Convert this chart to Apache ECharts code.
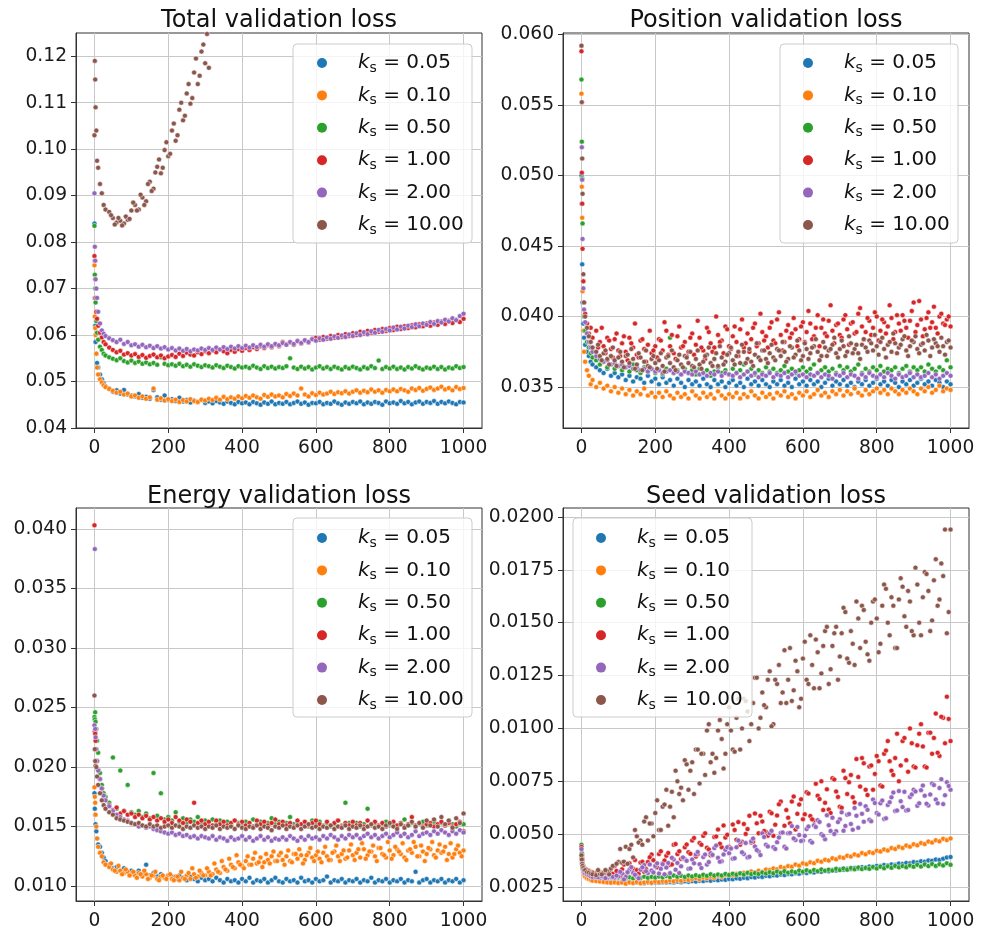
<!DOCTYPE html>
<html><head><meta charset="utf-8">
<script src="https://cdn.jsdelivr.net/npm/echarts@6/dist/echarts.min.js"></script>
<style>html,body{margin:0;padding:0;background:#fff}#c{width:989px;height:931px}</style>
</head><body><div id="c"></div>
<script>
const epochs = [0,1,2,3,5,7,10,15,20,25,30,40,50,60,70,80,90,100,
110,120,130,140,150,160,170,180,190,200,
210,220,230,240,250,260,270,280,290,300,
310,320,330,340,350,360,370,380,390,400,
410,420,430,440,450,460,470,480,490,500,
510,520,530,540,550,560,570,580,590,600,
610,620,630,640,650,660,670,680,690,700,
710,720,730,740,750,760,770,780,790,800,
810,820,830,840,850,860,870,880,890,900,
910,920,930,940,950,960,970,980,990,1000];
// extra in-between epochs for the widely scattered runs
const epochsMid = [45,55,65,75,85,95,
105,115,125,135,145,155,165,175,185,195,
205,215,225,235,245,255,265,275,285,295,
305,315,325,335,345,355,365,375,385,395,
405,415,425,435,445,455,465,475,485,495,
505,515,525,535,545,555,565,575,585,595,
605,615,625,635,645,655,665,675,685,695,
705,715,725,735,745,755,765,775,785,795,
805,815,825,835,845,855,865,875,885,895,
905,915,925,935,945,955,965,975,985,995];

const kLabels = ['0.05','0.10','0.50','1.00','2.00','10.00'];
const titles = ['Total validation loss','Position validation loss','Energy validation loss','Seed validation loss'];
const xTicks = [0,200,400,600,800,1000];
const yTicksTotal = [0.04,0.05,0.06,0.07,0.08,0.09,0.10,0.11,0.12];
const yTicksPosition = [0.035,0.040,0.045,0.050,0.055,0.060];
const yTicksEnergy = [0.010,0.015,0.020,0.025,0.030,0.035,0.040];
const yTicksSeed = [0.0025,0.0050,0.0075,0.0100,0.0125,0.0150,0.0175,0.0200];

// ---- Total validation loss ----
const totalK005 = [.0840,.0680,.0620,.0585,.0560,.0540,.0530,.0515,.0505,.0497,.0490,.0485,.0478,.0481,.0474,.0482,.0472,.0470,
.0468,.0473,.0465,.0467,.0463,.0482,.0466,.0461,.0470,.0460,
.0462,.0458,.0465,.0457,.0460,.0455,.0459,.0456,.0461,.0454,
.0457,.0453,.0458,.0455,.0452,.0457,.0454,.0451,.0456,.0453,
.0455,.0451,.0456,.0453,.0450,.0455,.0452,.0457,.0451,.0454,
.0452,.0456,.0451,.0454,.0457,.0452,.0455,.0450,.0454,.0453,
.0456,.0451,.0454,.0452,.0457,.0453,.0450,.0455,.0452,.0456,
.0453,.0457,.0451,.0455,.0452,.0456,.0454,.0450,.0457,.0453,
.0455,.0452,.0458,.0453,.0456,.0451,.0455,.0457,.0452,.0456,
.0454,.0458,.0452,.0456,.0453,.0457,.0454,.0451,.0456,.0455];
const totalK010 = [.0750,.0640,.0615,.0600,.0560,.0530,.0515,.0505,.0498,.0492,.0488,.0484,.0480,.0476,.0478,.0472,.0474,.0468,
.0470,.0465,.0468,.0463,.0466,.0485,.0461,.0464,.0459,.0462,
.0458,.0461,.0456,.0460,.0457,.0462,.0458,.0456,.0461,.0459,
.0463,.0460,.0465,.0461,.0467,.0462,.0466,.0463,.0468,.0464,
.0469,.0465,.0470,.0466,.0463,.0471,.0467,.0472,.0468,.0470,
.0466,.0473,.0469,.0474,.0470,.0485,.0472,.0468,.0475,.0471,
.0476,.0472,.0474,.0478,.0473,.0477,.0475,.0479,.0474,.0478,
.0481,.0476,.0480,.0477,.0483,.0478,.0481,.0476,.0482,.0479,
.0483,.0479,.0484,.0481,.0478,.0485,.0482,.0486,.0480,.0484,
.0487,.0482,.0485,.0489,.0483,.0486,.0481,.0488,.0484,.0486];
const totalK050 = [.0835,.0730,.0700,.0670,.0630,.0605,.0590,.0575,.0568,.0560,.0556,.0552,.0549,.0546,.0550,.0544,.0541,.0545,
.0540,.0543,.0538,.0541,.0537,.0540,.0536,.0552,.0538,.0535,
.0537,.0534,.0538,.0533,.0536,.0532,.0537,.0534,.0531,.0535,
.0533,.0530,.0535,.0532,.0529,.0534,.0531,.0528,.0533,.0530,
.0532,.0529,.0534,.0530,.0527,.0533,.0529,.0532,.0528,.0531,
.0529,.0533,.0550,.0530,.0527,.0532,.0528,.0531,.0526,.0530,
.0533,.0528,.0531,.0527,.0532,.0529,.0526,.0531,.0528,.0532,
.0529,.0526,.0531,.0528,.0533,.0529,.0545,.0527,.0531,.0528,
.0532,.0527,.0530,.0526,.0531,.0528,.0533,.0529,.0526,.0530,
.0528,.0532,.0527,.0531,.0526,.0530,.0528,.0533,.0529,.0531];
const totalK100 = [.0770,.0760,.0720,.0680,.0650,.0635,.0620,.0605,.0595,.0585,.0580,.0573,.0568,.0563,.0566,.0558,.0561,.0556,
.0559,.0553,.0557,.0551,.0555,.0558,.0552,.0556,.0550,.0554,
.0557,.0553,.0560,.0555,.0562,.0558,.0556,.0563,.0559,.0565,
.0561,.0567,.0563,.0569,.0565,.0561,.0568,.0564,.0570,.0566,
.0572,.0568,.0574,.0570,.0576,.0572,.0578,.0574,.0580,.0576,
.0585,.0580,.0584,.0579,.0587,.0582,.0588,.0584,.0592,.0594,
.0590,.0596,.0592,.0598,.0594,.0600,.0596,.0602,.0598,.0604,
.0600,.0607,.0603,.0609,.0605,.0611,.0607,.0613,.0609,.0615,
.0611,.0618,.0613,.0619,.0615,.0621,.0617,.0623,.0619,.0625,
.0620,.0627,.0622,.0629,.0624,.0631,.0626,.0633,.0628,.0635];
const totalK200 = [.0905,.0790,.0760,.0720,.0700,.0680,.0650,.0625,.0610,.0603,.0598,.0593,.0589,.0585,.0590,.0581,.0585,.0578,
.0580,.0575,.0579,.0574,.0577,.0572,.0576,.0571,.0574,.0569,
.0572,.0567,.0571,.0566,.0570,.0565,.0569,.0567,.0571,.0568,
.0572,.0568,.0573,.0569,.0574,.0570,.0575,.0571,.0576,.0572,
.0577,.0573,.0578,.0574,.0579,.0575,.0580,.0576,.0581,.0578,
.0583,.0579,.0585,.0581,.0587,.0583,.0589,.0585,.0591,.0588,
.0593,.0590,.0595,.0592,.0597,.0594,.0599,.0596,.0601,.0598,
.0604,.0600,.0606,.0602,.0608,.0605,.0611,.0607,.0613,.0610,
.0616,.0612,.0618,.0614,.0620,.0617,.0623,.0619,.0625,.0622,
.0628,.0624,.0630,.0627,.0633,.0629,.0636,.0632,.0641,.0646];
const totalK1000 = [.1030,.1190,.1150,.1090,.1040,.0975,.0960,.0925,.0905,.0880,.0870,.0865,.0852,.0842,.0846,.0840,.0848,.0868,
.0880,.0870,.0896,.0888,.0930,.0915,.0962,.0948,.0998,.0985,
.1040,.1018,.1085,.1062,.1120,.1098,.1165,.1140,.1210,.1185,
.1175];
const totalK1000Mid = [.0858,.0838,.0852,.0836,.0855,.0850,
.0885,.0868,.0902,.0880,.0925,.0910,.0950,.0978,.0960,.1015,
.0990,.1055,.1030,.1100,.1072,.1140,.1110,.1195,.1158,.1225,
.1248];

// ---- Position validation loss ----
const positionK005 = [.0500,.0480,.0437,.0410,.0395,.0385,.0380,.0375,.0372,.0368,.0366,.0364,.0362,.0360,.0363,.0358,.0360,.0357,
.0359,.0355,.0358,.0354,.0357,.0356,.0353,.0358,.0354,.0356,
.0352,.0357,.0353,.0355,.0351,.0356,.0353,.0350,.0355,.0352,
.0354,.0351,.0356,.0352,.0350,.0355,.0352,.0354,.0350,.0353,
.0355,.0351,.0353,.0350,.0356,.0352,.0354,.0351,.0355,.0352,
.0350,.0354,.0352,.0355,.0351,.0353,.0350,.0356,.0352,.0354,
.0351,.0355,.0352,.0354,.0350,.0353,.0356,.0351,.0354,.0352,
.0355,.0351,.0353,.0350,.0354,.0352,.0355,.0351,.0353,.0356,
.0352,.0354,.0351,.0355,.0353,.0350,.0354,.0352,.0355,.0351,
.0353,.0356,.0352,.0354,.0351,.0355,.0353,.0350,.0354,.0352];
const positionK010 = [.0558,.0492,.0470,.0418,.0390,.0375,.0368,.0362,.0358,.0352,.0355,.0350,.0353,.0349,.0351,.0347,.0350,.0346,
.0349,.0345,.0348,.0344,.0347,.0345,.0349,.0344,.0346,.0343,
.0346,.0343,.0347,.0344,.0342,.0346,.0343,.0345,.0342,.0347,
.0344,.0342,.0346,.0343,.0345,.0342,.0347,.0344,.0342,.0345,
.0343,.0346,.0342,.0345,.0343,.0347,.0344,.0342,.0346,.0343,
.0345,.0342,.0346,.0344,.0347,.0343,.0345,.0342,.0346,.0344,
.0347,.0343,.0345,.0348,.0344,.0346,.0343,.0347,.0345,.0348,
.0344,.0347,.0345,.0349,.0346,.0344,.0348,.0345,.0347,.0349,
.0346,.0348,.0345,.0349,.0347,.0345,.0348,.0346,.0349,.0347,
.0345,.0349,.0347,.0350,.0346,.0348,.0351,.0347,.0349,.0348];
const positionK050 = [.0568,.0524,.0498,.0466,.0425,.0400,.0390,.0382,.0378,.0374,.0371,.0369,.0366,.0368,.0364,.0366,.0363,.0365,
.0362,.0364,.0361,.0366,.0362,.0360,.0364,.0361,.0363,.0360,
.0362,.0359,.0363,.0385,.0360,.0362,.0359,.0363,.0360,.0362,
.0359,.0363,.0360,.0362,.0358,.0361,.0364,.0360,.0362,.0359,
.0363,.0360,.0362,.0366,.0361,.0363,.0359,.0362,.0360,.0364,
.0361,.0363,.0360,.0362,.0365,.0361,.0363,.0360,.0362,.0364,
.0361,.0363,.0366,.0360,.0362,.0364,.0361,.0363,.0360,.0365,
.0362,.0364,.0361,.0363,.0366,.0360,.0363,.0361,.0364,.0362,
.0365,.0361,.0363,.0362,.0364,.0360,.0363,.0365,.0361,.0364,
.0362,.0364,.0361,.0366,.0363,.0361,.0364,.0362,.0369,.0364];
const positionK100 = [.0588,.0502,.0480,.0448,.0425,.0410,.0402,.0395,.0388,.0392,.0385,.0390,.0382,.0379,.0385,.0377,.0384,.0376,
.0381,.0375,.0385,.0378,.0373,.0383,.0377,.0380,.0374,.0379,
.0384,.0376,.0390,.0379,.0374,.0386,.0378,.0382,.0375,.0388,
.0380,.0385,.0376,.0392,.0381,.0378,.0387,.0383,.0393,.0379,
.0386,.0382,.0391,.0378,.0388,.0384,.0395,.0381,.0389,.0386,
.0392,.0383,.0398,.0387,.0382,.0394,.0388,.0391,.0384,.0396,
.0389,.0395,.0386,.0401,.0392,.0388,.0397,.0390,.0394,.0387,
.0398,.0391,.0395,.0388,.0402,.0393,.0389,.0397,.0392,.0400,
.0390,.0396,.0393,.0399,.0389,.0395,.0401,.0392,.0397,.0410,
.0394,.0398,.0391,.0403,.0396,.0392,.0400,.0395,.0398,.0393];
const positionK100Mid = [.0378,.0392,.0374,.0383,.0371,.0388,
.0372,.0386,.0369,.0381,.0395,.0371,.0384,.0368,.0390,.0376,
.0371,.0383,.0396,.0373,.0387,.0370,.0393,.0379,.0372,.0385,
.0373,.0397,.0378,.0370,.0389,.0375,.0400,.0382,.0374,.0391,
.0377,.0393,.0372,.0398,.0381,.0375,.0392,.0379,.0402,.0383,
.0378,.0396,.0381,.0403,.0376,.0390,.0385,.0399,.0379,.0393,
.0382,.0404,.0384,.0392,.0379,.0398,.0386,.0408,.0381,.0395,
.0385,.0401,.0380,.0396,.0389,.0406,.0384,.0399,.0387,.0403,
.0383,.0398,.0388,.0408,.0384,.0401,.0390,.0397,.0385,.0404,
.0389,.0411,.0386,.0399,.0392,.0407,.0388,.0402,.0394,.0400];
const positionK200 = [.0592,.0520,.0497,.0455,.0420,.0405,.0396,.0388,.0382,.0378,.0375,.0372,.0370,.0368,.0369,.0366,.0367,.0365,
.0366,.0364,.0365,.0363,.0364,.0362,.0363,.0361,.0363,.0361,
.0362,.0360,.0361,.0362,.0360,.0361,.0359,.0361,.0360,.0359,
.0361,.0359,.0360,.0358,.0360,.0359,.0361,.0358,.0360,.0359,
.0358,.0360,.0357,.0359,.0361,.0358,.0360,.0357,.0359,.0358,
.0360,.0357,.0359,.0358,.0360,.0357,.0359,.0361,.0358,.0359,
.0357,.0359,.0358,.0360,.0357,.0359,.0358,.0356,.0359,.0358,
.0360,.0357,.0359,.0358,.0356,.0359,.0357,.0360,.0358,.0357,
.0359,.0357,.0360,.0358,.0356,.0359,.0357,.0358,.0360,.0357,
.0359,.0357,.0358,.0360,.0357,.0359,.0356,.0358,.0360,.0358];
const positionK1000 = [.0592,.0552,.0512,.0487,.0430,.0410,.0400,.0392,.0386,.0382,.0378,.0375,.0372,.0374,.0370,.0372,.0369,.0371,
.0368,.0372,.0367,.0370,.0366,.0371,.0368,.0365,.0370,.0367,
.0369,.0365,.0371,.0367,.0364,.0369,.0366,.0372,.0367,.0365,
.0370,.0366,.0368,.0373,.0367,.0370,.0365,.0371,.0368,.0374,
.0369,.0372,.0367,.0375,.0370,.0368,.0373,.0371,.0376,.0370,
.0374,.0371,.0377,.0372,.0375,.0370,.0378,.0373,.0376,.0372,
.0377,.0374,.0379,.0375,.0372,.0378,.0376,.0380,.0374,.0377,
.0379,.0375,.0381,.0377,.0374,.0380,.0378,.0383,.0376,.0379,
.0382,.0377,.0380,.0375,.0381,.0378,.0384,.0376,.0379,.0382,
.0377,.0380,.0376,.0383,.0378,.0381,.0375,.0379,.0382,.0378];
const positionK1000Mid = [.0380,.0369,.0376,.0366,.0378,.0365,
.0375,.0364,.0373,.0377,.0363,.0374,.0362,.0376,.0364,.0372,
.0363,.0374,.0361,.0372,.0376,.0362,.0373,.0364,.0371,.0375,
.0364,.0376,.0363,.0372,.0378,.0365,.0374,.0379,.0366,.0373,
.0378,.0366,.0375,.0380,.0367,.0377,.0365,.0381,.0369,.0376,
.0367,.0380,.0369,.0376,.0382,.0368,.0379,.0371,.0383,.0369,
.0381,.0370,.0378,.0384,.0369,.0382,.0372,.0377,.0385,.0371,
.0383,.0372,.0386,.0374,.0380,.0370,.0384,.0375,.0381,.0387,
.0373,.0385,.0371,.0382,.0388,.0374,.0380,.0386,.0372,.0383,
.0386,.0374,.0381,.0387,.0372,.0384,.0379,.0385,.0373,.0383];

// ---- Energy validation loss ----
const energyK005 = [.0178,.0165,.0160,.0152,.0146,.0140,.0135,.0133,.0128,.0124,.0121,.0118,.0115,.0116,.0113,.0115,.0112,.0113,
.0111,.0113,.0110,.0118,.0109,.0111,.0108,.0110,.0107,.0109,
.0108,.0106,.0109,.0107,.0105,.0108,.0106,.0104,.0107,.0105,
.0106,.0104,.0107,.0105,.0103,.0106,.0104,.0105,.0103,.0106,
.0104,.0107,.0103,.0105,.0104,.0106,.0103,.0105,.0107,.0104,
.0103,.0106,.0104,.0105,.0103,.0107,.0104,.0105,.0103,.0106,
.0104,.0105,.0108,.0103,.0105,.0104,.0106,.0103,.0105,.0104,
.0106,.0103,.0105,.0104,.0107,.0103,.0105,.0104,.0106,.0103,
.0105,.0104,.0106,.0103,.0105,.0104,.0112,.0103,.0105,.0106,
.0103,.0105,.0104,.0106,.0103,.0105,.0104,.0106,.0103,.0105];
const energyK010 = [.0183,.0175,.0170,.0160,.0150,.0140,.0133,.0128,.0125,.0120,.0118,.0116,.0114,.0112,.0113,.0111,.0112,.0110,
.0109,.0111,.0108,.0110,.0107,.0109,.0106,.0108,.0107,.0109,
.0106,.0108,.0105,.0107,.0109,.0106,.0110,.0108,.0111,.0109,
.0112,.0110,.0114,.0111,.0116,.0113,.0118,.0115,.0120,.0117,
.0121,.0118,.0123,.0119,.0124,.0120,.0122,.0125,.0121,.0126,
.0122,.0125,.0121,.0127,.0123,.0126,.0122,.0128,.0124,.0126,
.0123,.0128,.0125,.0122,.0129,.0125,.0127,.0123,.0130,.0126,
.0128,.0124,.0131,.0126,.0129,.0125,.0132,.0127,.0124,.0130,
.0126,.0131,.0127,.0124,.0130,.0128,.0133,.0125,.0129,.0127,
.0131,.0126,.0130,.0128,.0133,.0127,.0124,.0131,.0128,.0130];
const energyK010Mid = [.0119,.0113,.0117,.0110,.0114,.0109,
.0112,.0107,.0110,.0113,.0106,.0109,.0112,.0105,.0109,.0106,
.0110,.0105,.0108,.0112,.0106,.0111,.0115,.0107,.0113,.0109,
.0115,.0109,.0119,.0112,.0121,.0114,.0123,.0116,.0126,.0118,
.0115,.0125,.0118,.0128,.0120,.0116,.0127,.0119,.0129,.0121,
.0128,.0118,.0130,.0120,.0127,.0131,.0119,.0126,.0132,.0121,
.0129,.0120,.0133,.0122,.0128,.0134,.0121,.0130,.0124,.0135,
.0122,.0131,.0136,.0123,.0129,.0134,.0121,.0132,.0126,.0137,
.0123,.0133,.0129,.0136,.0122,.0131,.0137,.0125,.0134,.0121,
.0132,.0137,.0124,.0135,.0129,.0122,.0136,.0127,.0134,.0125];
const energyK050 = [.0242,.0240,.0246,.0238,.0232,.0222,.0212,.0195,.0185,.0178,.0175,.0170,.0208,.0165,.0197,.0163,.0185,.0162,
.0160,.0163,.0158,.0161,.0157,.0195,.0159,.0178,.0156,.0158,
.0155,.0162,.0154,.0157,.0153,.0156,.0154,.0158,.0153,.0155,
.0152,.0156,.0153,.0155,.0152,.0154,.0151,.0155,.0153,.0152,
.0154,.0151,.0156,.0152,.0154,.0151,.0153,.0157,.0152,.0154,
.0151,.0153,.0158,.0152,.0154,.0151,.0153,.0150,.0155,.0152,
.0154,.0151,.0153,.0150,.0152,.0155,.0151,.0170,.0153,.0151,
.0153,.0150,.0152,.0165,.0151,.0153,.0150,.0152,.0154,.0151,
.0153,.0150,.0152,.0156,.0151,.0153,.0150,.0152,.0154,.0151,
.0152,.0154,.0150,.0153,.0151,.0155,.0152,.0150,.0153,.0152];
const energyK100 = [.0403,.0230,.0228,.0222,.0215,.0205,.0198,.0190,.0182,.0176,.0172,.0168,.0164,.0166,.0161,.0163,.0160,.0161,
.0158,.0160,.0157,.0159,.0156,.0158,.0155,.0157,.0154,.0156,
.0153,.0158,.0155,.0153,.0156,.0154,.0170,.0153,.0155,.0152,
.0154,.0151,.0155,.0152,.0154,.0151,.0153,.0155,.0152,.0154,
.0151,.0153,.0150,.0155,.0152,.0154,.0151,.0153,.0156,.0152,
.0154,.0151,.0153,.0150,.0155,.0152,.0154,.0151,.0153,.0155,
.0152,.0150,.0154,.0151,.0153,.0155,.0150,.0153,.0151,.0154,
.0151,.0153,.0150,.0155,.0152,.0154,.0151,.0153,.0150,.0152,
.0154,.0151,.0153,.0150,.0152,.0158,.0151,.0153,.0150,.0152,
.0153,.0150,.0152,.0154,.0151,.0153,.0150,.0152,.0154,.0146];
const energyK200 = [.0235,.0383,.0232,.0225,.0215,.0205,.0197,.0190,.0182,.0176,.0172,.0167,.0163,.0160,.0158,.0156,.0155,.0153,
.0152,.0150,.0151,.0149,.0150,.0148,.0147,.0146,.0145,.0144,
.0145,.0143,.0144,.0142,.0143,.0141,.0142,.0140,.0142,.0141,
.0140,.0142,.0139,.0141,.0140,.0138,.0141,.0139,.0140,.0142,
.0139,.0141,.0138,.0140,.0142,.0139,.0141,.0138,.0140,.0139,
.0141,.0139,.0142,.0140,.0138,.0141,.0139,.0142,.0140,.0141,
.0139,.0142,.0140,.0143,.0141,.0139,.0142,.0140,.0143,.0141,
.0143,.0140,.0142,.0144,.0141,.0143,.0140,.0142,.0144,.0141,
.0143,.0145,.0142,.0144,.0141,.0143,.0146,.0142,.0144,.0145,
.0143,.0146,.0144,.0147,.0145,.0143,.0146,.0144,.0147,.0145];
const energyK1000 = [.0260,.0215,.0205,.0201,.0200,.0192,.0185,.0178,.0172,.0168,.0165,.0162,.0160,.0157,.0156,.0155,.0154,.0153,
.0152,.0153,.0151,.0150,.0152,.0150,.0151,.0149,.0150,.0151,
.0149,.0151,.0150,.0148,.0150,.0149,.0151,.0149,.0150,.0148,
.0150,.0149,.0151,.0148,.0150,.0149,.0150,.0148,.0151,.0149,
.0148,.0150,.0149,.0151,.0148,.0150,.0149,.0147,.0150,.0149,
.0151,.0148,.0150,.0149,.0151,.0148,.0150,.0152,.0149,.0150,
.0148,.0150,.0149,.0151,.0148,.0150,.0149,.0151,.0148,.0150,
.0149,.0151,.0148,.0150,.0152,.0149,.0150,.0148,.0151,.0153,
.0150,.0148,.0152,.0149,.0151,.0154,.0150,.0153,.0149,.0155,
.0151,.0156,.0150,.0158,.0152,.0155,.0149,.0157,.0153,.0161];

// ---- Seed validation loss ----
const seedK005 = [.0044,.0040,.0037,.0035,.0033,.0032,.0031,.0030,.0030,.0029,.0029,.00285,.0028,.0028,.00278,.00275,.00278,.00272,
.00274,.0027,.00273,.00269,.00272,.0027,.00268,.00272,.00269,.00271,
.0027,.00273,.00271,.00274,.00272,.00276,.00273,.00277,.00275,.00278,
.00276,.0028,.00278,.00282,.0028,.00284,.00282,.00286,.00284,.00288,
.00287,.00291,.00289,.00294,.00292,.00297,.00295,.003,.00298,.00303,
.00301,.00306,.00304,.00309,.00307,.00312,.0031,.00315,.00313,.00318,
.00316,.00321,.00319,.00324,.00322,.00327,.00325,.0033,.00328,.00334,
.00332,.00337,.00335,.0034,.00338,.00344,.00342,.00347,.00345,.0035,
.00349,.00354,.00352,.00357,.00355,.00361,.00359,.00364,.00362,.00368,
.00366,.00372,.0037,.00376,.00374,.0038,.00378,.00384,.0039,.00392];
const seedK010 = [.0043,.0039,.0036,.0034,.0032,.0031,.0030,.00292,.00288,.00284,.0028,.00278,.00276,.00274,.00272,.0027,.00272,.00269,
.00271,.00266,.00272,.00269,.00274,.00268,.00271,.00275,.0027,.00276,
.00273,.00279,.00275,.00281,.00277,.00284,.00279,.00287,.00283,.00288,
.00292,.00287,.00295,.00291,.00299,.00294,.00303,.00298,.00306,.00309,
.00305,.00313,.0031,.00318,.00314,.00324,.00319,.00327,.00322,.00333,
.0033,.00338,.00334,.00345,.0034,.00349,.00346,.00356,.00351,.00362,
.00358,.00367,.00363,.00374,.0037,.00379,.00375,.00386,.00381,.00391,
.00388,.00398,.00394,.00404,.00399,.00411,.00405,.00415,.00411,.00422,
.00418,.00428,.00423,.00434,.0043,.0044,.00435,.00446,.00441,.00452,
.00447,.00458,.00453,.00465,.0046,.00471,.00466,.00478,.00472,.0048];
const seedK050 = [.0045,.0041,.0038,.0036,.0035,.0034,.00335,.0033,.00328,.00322,.0032,.00315,.0031,.00306,.00302,.00298,.00301,.00295,
.00298,.00292,.00296,.00291,.00297,.00293,.00299,.00294,.00298,.00295,
.003,.00296,.00302,.00297,.00304,.00299,.00303,.00298,.00305,.003,
.00306,.00301,.00308,.00303,.0031,.00304,.00309,.00305,.00312,.00307,
.00313,.00308,.00315,.00309,.00317,.00311,.00316,.00312,.00319,.00314,
.0032,.00315,.00323,.00317,.00325,.00318,.00324,.0032,.00328,.00322,
.00329,.00323,.00331,.00325,.00333,.00327,.00332,.00328,.00336,.0033,
.00338,.00332,.0034,.00334,.00342,.00335,.0034,.00336,.00345,.00338,
.00346,.00339,.00348,.00341,.0035,.00343,.00349,.00344,.00352,.00346,
.00355,.00347,.00357,.00349,.00359,.0035,.00358,.00352,.00362,.00355];
const seedK100 = [.0044,.0040,.0038,.0036,.0035,.0034,.00335,.0033,.00325,.0032,.00318,.00315,.00312,.00316,.00311,.00318,.00314,.0032,
.00334,.00308,.00362,.00336,.0033,.00366,.00322,.00368,.00404,.0035,
.00406,.00362,.00398,.00354,.0045,.00406,.00382,.00438,.00414,.0047,
.00394,.00458,.00492,.00436,.004,.00486,.00522,.00438,.00484,.0044,
.00546,.00474,.0045,.00548,.00524,.0046,.00598,.00504,.0056,.0051,
.00606,.00492,.00588,.00654,.0054,.00578,.00654,.00522,.0064,.0057,
.00698,.00586,.00564,.00682,.0075,.00648,.00616,.00764,.00702,.0063,
.008,.0069,.0078,.0065,.0077,.0086,.0071,.0082,.0071,.0087,
.0073,.0088,.0094,.008,.0086,.0075,.0094,.0085,.01,.0082,
.0092,.0102,.0082,.0098,.0088,.0107,.0087,.0105,.0115,.0094];
const seedK100Mid = [.0031,.00318,.00305,.00322,.00312,.00326,
.00302,.00356,.0032,.00344,.00378,.00313,.00369,.00335,.00391,.00377,
.00343,.00419,.00375,.00411,.00357,.00453,.00419,.00385,.00451,.00407,
.00482,.00406,.0045,.00504,.00428,.00403,.00489,.00455,.00541,.00497,
.00433,.0052,.00557,.00464,.00501,.00587,.00464,.00551,.00587,.00515,
.00493,.00599,.00545,.00641,.00507,.00614,.00551,.00678,.00596,.00665,
.00594,.00692,.0057,.00738,.00666,.00614,.00712,.006,.00758,.00676,
.00625,.00765,.00745,.00675,.00855,.00725,.00835,.00685,.00825,.00785,
.00845,.00725,.00895,.00845,.0078,.00975,.00825,.00955,.00795,.0093,
.00815,.00975,.00915,.00815,.0098,.00955,.00885,.01055,.0093,.01045];
const seedK200 = [.0043,.0039,.0036,.0034,.0033,.0032,.00315,.0031,.00305,.003,.00298,.00296,.00294,.00297,.00293,.00298,.00295,.003,
.00314,.00298,.00332,.00316,.003,.00332,.00354,.00316,.00328,.0035,
.00314,.00358,.00342,.00316,.0038,.00364,.00348,.00382,.00336,.0038,
.00404,.00358,.00392,.00356,.0041,.00434,.00388,.00372,.00426,.0041,
.00384,.00438,.00462,.00406,.0039,.00466,.00442,.00418,.00504,.0045,
.00504,.00438,.00462,.00506,.0044,.00504,.00538,.00472,.00496,.0047,
.00524,.00468,.00542,.00566,.005,.00476,.00542,.00578,.00514,.0057,
.00516,.00592,.00548,.00624,.0053,.00596,.00632,.00568,.00664,.006,
.00646,.00572,.00638,.00674,.0061,.00704,.00628,.00612,.00676,.0071,
.00634,.00708,.00682,.00636,.0074,.00664,.00718,.00642,.00746,.0071];
const seedK200Mid = [.00296,.00302,.00292,.00306,.00298,.00304,
.00322,.00286,.0032,.00344,.00308,.00291,.00343,.00325,.00357,.00319,
.00362,.00336,.0031,.00364,.00388,.00332,.00316,.0039,.00374,.00338,
.00362,.00416,.0034,.00404,.00368,.00402,.00446,.0037,.00404,.00438,
.00432,.00386,.0047,.00414,.00458,.00393,.00479,.00425,.00401,.00487,
.00442,.00516,.0043,.00484,.00508,.00432,.00506,.0048,.00534,.00468,
.00492,.00536,.0046,.00534,.00558,.00493,.00589,.00515,.00501,.00557,
.00603,.00539,.00595,.00521,.00587,.00643,.00559,.00615,.00561,.00647,
.00593,.00659,.00575,.00651,.00697,.00612,.00656,.007,.00614,.00688,
.00702,.00646,.0073,.00644,.00688,.00732,.00646,.0076,.00684,.00728];
const seedK1000 = [.0040,.0038,.0036,.0035,.0034,.0033,.0033,.0032,.00318,.00312,.0031,.00306,.00312,.00318,.00326,.00338,.0035,.00368,
.00365,.0044,.0043,.0039,.0049,.0047,.0056,.0047,.0055,.006,
.0052,.0063,.0071,.0063,.0058,.0075,.0072,.0085,.0071,.0084,
.009,.0074,.0088,.0099,.0084,.0079,.0099,.0095,.0088,.011,
.009,.0105,.009,.0114,.0108,.0102,.0124,.01,.0117,.011,
.0127,.0102,.0121,.0112,.0137,.0123,.0113,.0132,.011,.0133,
.0123,.0144,.0119,.0136,.0126,.0146,.0121,.0139,.0148,.0134,
.0157,.0133,.0146,.013,.0152,.0158,.0141,.0132,.016,.0152,
.014,.0168,.015,.0162,.0138,.0161,.0167,.0148,.016,.0144,
.0168,.0144,.0174,.0165,.0151,.018,.0161,.0172,.0145,.0194];
const seedK1000Mid = [.0033,.0031,.0033,.0031,.0035,.0036,
.0043,.0037,.0036,.0045,.0052,.0046,.0045,.0058,.0055,.0049,
.0066,.0052,.0064,.0054,.007,.008,.0069,.0066,.0083,.008,
.0069,.009,.0088,.0078,.0102,.0088,.0086,.0104,.0081,.0102,
.0099,.0089,.0114,.01,.0113,.0094,.0112,.0124,.0105,.0111,
.0123,.0101,.0123,.013,.0117,.0112,.0138,.0118,.0127,.0114,
.0141,.0121,.013,.0142,.0119,.0139,.0148,.0128,.0145,.0123,
.0145,.0155,.0131,.014,.016,.0138,.0156,.0135,.015,.0161,
.0136,.0158,.0166,.0144,.0158,.0138,.0171,.0153,.0165,.0146,
.0176,.015,.0162,.0173,.0146,.017,.0158,.0178,.0194,.0155];

const panelSeries = [
  [totalK005,totalK010,totalK050,totalK100,totalK200,totalK1000],
  [positionK005,positionK010,positionK050,positionK100,positionK200,positionK1000],
  [energyK005,energyK010,energyK050,energyK100,energyK200,energyK1000],
  [seedK005,seedK010,seedK050,seedK100,seedK200,seedK1000]
];
const panelMid = [
  [null,null,null,null,null,totalK1000Mid],
  [null,null,null,positionK100Mid,null,positionK1000Mid],
  [null,energyK010Mid,null,null,null,null],
  [null,null,null,seedK100Mid,seedK200Mid,seedK1000Mid]
];
const yTicks = [yTicksTotal,yTicksPosition,yTicksEnergy,yTicksSeed];

// ---- styling / layout ----
const FONT = 'DejaVu Sans';
const colors = ['#1f77b4','#ff7f0e','#2ca02c','#d62728','#9467bd','#8c564b'];
const gridBoxes = [
  {left:76, top:33, width:406, height:395},
  {left:563, top:33, width:406, height:395},
  {left:76, top:508, width:406, height:395},
  {left:563, top:508, width:406, height:395}
];
const yRanges = [[0.04,0.125],[0.0321,0.0601],[0.00875,0.04175],[0.00184,0.02042]];
const yDecimals = [2,3,3,4];
const legendBoxes = [
  {x:293, y:44, w:179, h:199, mx:317, my:51},
  {x:780, y:44, w:178, h:199, mx:803, my:51},
  {x:293, y:518, w:179, h:199, mx:317, my:526},
  {x:573, y:518, w:179, h:199, mx:596, my:526}
];

const grid = gridBoxes.map(g => ({left:g.left, top:g.top, width:g.width, height:g.height, show:true,
  borderColor:'#333', borderWidth:1, backgroundColor:'transparent', containLabel:false}));

const xAxis = gridBoxes.map((g,i) => ({
  type:'value', gridIndex:i, min:-50, max:1050,
  axisLine:{show:true, onZero:false, lineStyle:{color:'#333', width:1}},
  axisTick:{show:true, length:5, lineStyle:{color:'#333', width:1}, customValues:xTicks},
  axisLabel:{customValues:xTicks, fontFamily:FONT, fontSize:18.67, color:'#1a1a1a', margin:11,
    formatter:v => String(Math.round(v))},
  splitLine:{show:true, lineStyle:{color:'#c8c8c8', width:1}}
}));

const yAxis = gridBoxes.map((g,i) => ({
  type:'value', gridIndex:i, min:yRanges[i][0], max:yRanges[i][1],
  axisLine:{show:true, onZero:false, lineStyle:{color:'#333', width:1}},
  axisTick:{show:true, length:5, lineStyle:{color:'#333', width:1}, customValues:yTicks[i]},
  axisLabel:{customValues:yTicks[i], fontFamily:FONT, fontSize:18.67, color:'#1a1a1a', margin:9,
    formatter:v => v.toFixed(yDecimals[i])},
  splitLine:{show:true, lineStyle:{color:'#c8c8c8', width:1}}
}));

const series = [];
panelSeries.forEach((arrs,p) => {
  arrs.forEach((vals,k) => {
    let data = vals.map((v,i) => [epochs[i], v]);
    const mid = panelMid[p][k];
    if (mid) data = data.concat(mid.map((v,i) => [epochsMid[i], v]));
    series.push({
      type:'scatter', name:kLabels[k], xAxisIndex:p, yAxisIndex:p,
      data: data,
      symbol:'circle', symbolSize:5, clip:true, silent:true, z:2,
      itemStyle:{color:colors[k], borderColor:'#ffffff', borderWidth:0.5, opacity:1}
    });
  });
});

const rich = {
  k:{fontFamily:FONT, fontStyle:'italic', fontSize:20, color:'#111', lineHeight:24, padding:[0,0,0,26]},
  s:{fontFamily:FONT, fontSize:14, color:'#111', lineHeight:14, verticalAlign:'bottom'},
  t:{fontFamily:FONT, fontSize:20, color:'#111', lineHeight:24}
};

const legend = legendBoxes.map(b => ({
  show:true, orient:'vertical', left:b.mx, top:b.my, padding:0, itemGap:8.4,
  itemWidth:10, itemHeight:10, icon:'circle', selectedMode:false, z:20,
  itemStyle:{borderWidth:0},
  data:kLabels.slice(),
  formatter:name => '{k|k}{s|s}{t| = ' + name + '}',
  textStyle:{fontFamily:FONT, fontSize:20, lineHeight:24, color:'#111', rich:rich}
}));

const graphic = legendBoxes.map(b => ({
  type:'rect', z:15, silent:true,
  shape:{x:b.x, y:b.y, width:b.w, height:b.h, r:4},
  style:{fill:'rgba(255,255,255,0.8)', stroke:'#cccccc', lineWidth:1}
}));

const titleCenters = [[279,9],[766,9],[279,485],[766,485]];
const title = titles.map((t,i) => ({
  text:t, left:titleCenters[i][0], top:titleCenters[i][1], textAlign:'center', padding:0,
  textStyle:{fontFamily:FONT, fontSize:24, fontWeight:'normal', color:'#111'}
}));

const chart = echarts.init(document.getElementById('c'), null, {renderer:'canvas'});
chart.setOption({
  animation:false, backgroundColor:'#ffffff',
  title, grid, xAxis, yAxis, series, legend, graphic
});
</script></body></html>
